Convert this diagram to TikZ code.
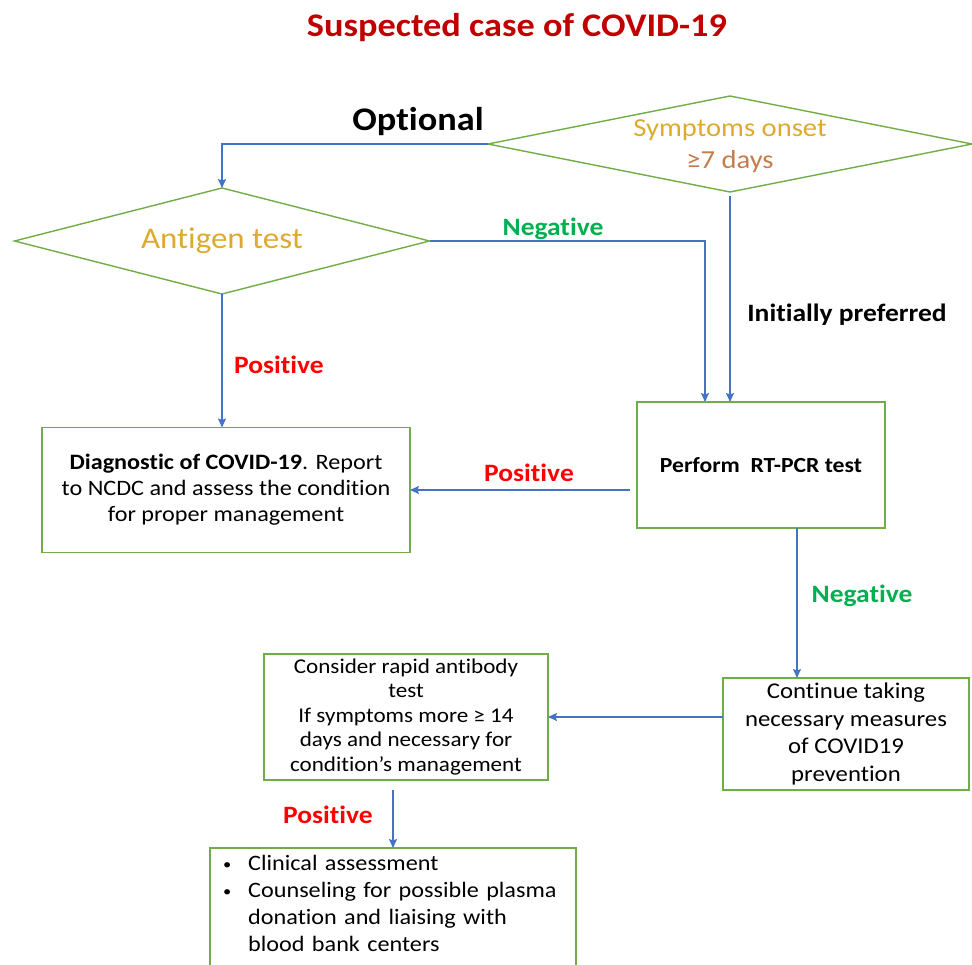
\documentclass[tikz,border=0pt]{standalone}
\usepackage{fontspec}
\setmainfont{Carlito}[FakeStretch=1.1, Ligatures=NoCommon]
\usepackage{xcolor}
\usetikzlibrary{shapes.geometric, calc, arrows.meta}

\definecolor{boxgreen}{RGB}{112,173,71}
\definecolor{arrowblue}{RGB}{68,114,196}
\definecolor{titlered}{RGB}{192,0,0}
\definecolor{posred}{RGB}{255,0,0}
\definecolor{neggreen}{RGB}{0,176,80}
\definecolor{onsetgold}{RGB}{221,170,45}
\definecolor{onsetbrown}{RGB}{197,124,76}

\newcommand{\smallbullet}{\raisebox{1pt}{\fontsize{15}{15}\selectfont\textbullet}}

\tikzset{
	box/.style = {draw=boxgreen, line width=1.4pt, align=center, inner sep=4pt, outer sep=0pt},
	decision/.style = {diamond, draw=boxgreen, line width=1.4pt, inner sep=0pt, outer sep=0pt},
	flow/.style = {draw=arrowblue, line width=1.4pt, -{Stealth[length=9pt, width=8pt, inset=1.5pt]}},
	poslabel/.style = {text=posred, font=\bfseries\fontsize{25}{30}\selectfont},
	neglabel/.style = {text=neggreen, font=\bfseries\fontsize{25}{30}\selectfont},
}

\begin{document}
\begin{tikzpicture}[x=1pt, y=-1pt]
	\useasboundingbox (0,0) rectangle (972,965);

	% title and the two tests
	\node[text=titlered, font=\bfseries\fontsize{33}{40}\selectfont] (title) at (517,28) {Suspected case of COVID-19};
	\node[font=\bfseries\fontsize{33}{40}\selectfont] (optional) at (418,122) {Optional};

	\node[decision, minimum width=484pt, minimum height=96pt] (sym) at (730,144) {};
	\node[align=center, text=onsetgold, font=\fontsize{26}{32}\selectfont] (symtext) at ([yshift=-2pt]sym.center) {Symptoms onset\\\textcolor{onsetbrown}{≥7 days}};

	\node[decision, minimum width=415pt, minimum height=106pt] (antigen) at (222,241) {};
	\node[text=onsetgold, font=\fontsize{30}{36}\selectfont] (antigentext) at (antigen.center) {Antigen test};

	% boxes
	\node[box, minimum width=248pt, minimum height=126pt, font=\bfseries\fontsize{21.5}{26}\selectfont] (perform) at (761,465) {Perform\ \ RT-PCR test};
	\node[box, minimum width=368pt, minimum height=125pt, font=\fontsize{22}{26}\selectfont] (diag) at (226,490)
		{\textbf{Diagnostic of COVID-19}. Report\\to NCDC and assess the condition\\for proper management};
	\node[box, minimum width=246pt, minimum height=112pt, font=\fontsize{22.5}{27.5}\selectfont] (cont) at (846,734)
		{Continue taking\\necessary measures\\of COVID19\\prevention};
	\node[box, minimum width=284pt, minimum height=126pt, font=\fontsize{21}{24.5}\selectfont] (consider) at (406,717)
		{Consider rapid antibody\\test\\If symptoms more ≥ 14\\days and necessary for\\condition’s management};
	\node[box, anchor=north west, text width=340pt, align=left, inner xsep=13pt, font=\fontsize{22}{27}\selectfont] (plasma) at (210,848)
		{\begin{tabular}{@{}l@{\hspace{17pt}}l@{}}
			\smallbullet & Clinical assessment\\
			\smallbullet & Counseling for possible plasma\\
			 & donation and liaising with\\
			 & blood bank centers\\[20pt]
		\end{tabular}};

	% connectors
	\draw[flow] (sym.west) -| (antigen.north);
	\draw[flow] (antigen.east) -| ([xshift=-56pt]perform.north);
	\draw[flow] ([yshift=-4pt]sym.south) -- (sym.south |- perform.north);
	\draw[flow] (antigen.south) -- (antigen.south |- diag.north);
	\draw[flow] ([xshift=-7pt]perform.west |- diag.east) -- (diag.east);
	\draw[flow] ([xshift=36pt]perform.south) -- ([xshift=36pt]perform.south |- cont.north);
	\draw[flow] (cont.west |- consider.east) -- (consider.east);
	\draw[flow] ([xshift=-13pt,yshift=-10pt]consider.south) -- ([xshift=-13pt]consider.south |- plasma.north);

	% labels
	\node[neglabel] (neg1) at (553,229) {Negative};
	\node[font=\bfseries\fontsize{25}{30}\selectfont] (preferred) at (847,315) {Initially preferred};
	\node[poslabel] (pos1) at (279,365) {Positive};
	\node[poslabel] (pos2) at (529,473) {Positive};
	\node[neglabel] (neg2) at (862,596) {Negative};
	\node[poslabel] (pos3) at (328,815) {Positive};
\end{tikzpicture}
\end{document}
